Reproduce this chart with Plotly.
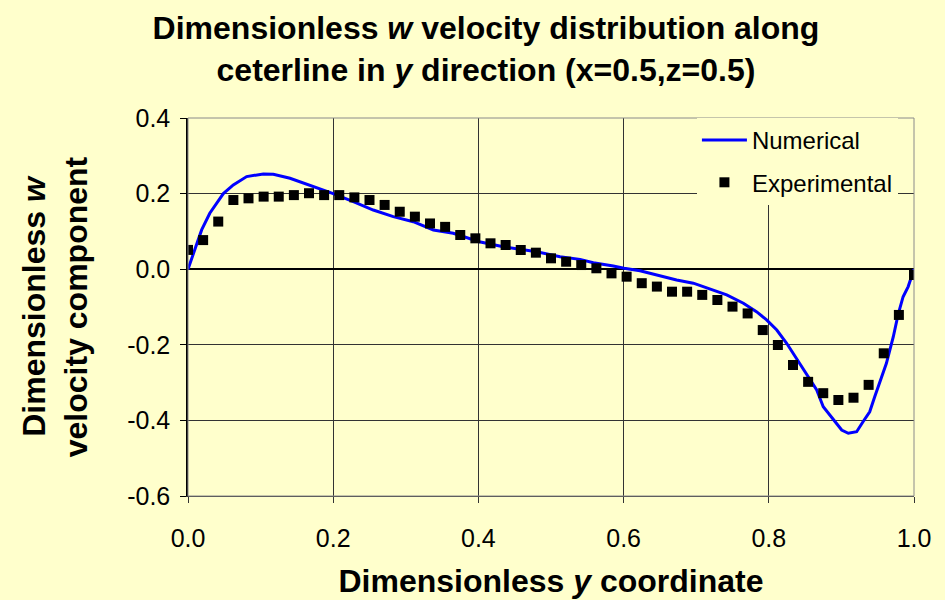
import plotly.graph_objects as go

# ---- Data ----
exp_x = [i / 48 for i in range(49)]
exp_w = [0.051, 0.077, 0.126, 0.183, 0.1875, 0.192, 0.192, 0.196, 0.201, 0.196,
         0.196, 0.190, 0.183, 0.170, 0.152, 0.139, 0.121, 0.112, 0.0905, 0.0817,
         0.0685, 0.064, 0.0508, 0.0437, 0.0288, 0.0198, 0.011, 0.0024, -0.011, -0.0198,
         -0.037, -0.046, -0.0595, -0.0595, -0.068, -0.0815, -0.099, -0.117, -0.161, -0.2005,
         -0.2534, -0.298, -0.328, -0.346, -0.340, -0.306, -0.2225, -0.121, -0.0153]

num_x = [0.0, 0.0096, 0.0188, 0.030, 0.0487, 0.0624, 0.0808, 0.1037, 0.1175, 0.1405,
         0.1635, 0.1818, 0.200, 0.2277, 0.2552, 0.2828, 0.3103, 0.338, 0.3654, 0.4013,
         0.4343, 0.4803, 0.5124, 0.54, 0.5583, 0.5858, 0.6006, 0.6226, 0.641, 0.664,
         0.673, 0.696, 0.719, 0.742, 0.765, 0.783, 0.797, 0.811, 0.8246, 0.838,
         0.852, 0.866, 0.875, 0.889, 0.9004, 0.9095, 0.921, 0.930, 0.939, 0.946,
         0.953, 0.962, 0.9715, 0.978, 0.985, 0.992, 1.0]
num_w = [0.0, 0.051, 0.104, 0.148, 0.200, 0.223, 0.245, 0.252, 0.251, 0.2405,
         0.225, 0.214, 0.200, 0.1786, 0.1566, 0.139, 0.1257, 0.1037, 0.095, 0.0728,
         0.0595, 0.0463, 0.033, 0.026, 0.017, 0.0085, 0.0024, -0.004, -0.0127, -0.024,
         -0.0286, -0.037, -0.053, -0.068, -0.090, -0.1124, -0.134, -0.161, -0.196, -0.236,
         -0.2754, -0.3196, -0.3638, -0.399, -0.4254, -0.434, -0.430, -0.403, -0.377, -0.337,
         -0.2976, -0.249, -0.1786, -0.121, -0.0728, -0.046, 0.0]

x_ticks = [0.0, 0.2, 0.4, 0.6, 0.8, 1.0]
x_tick_text = ["0.0", "0.2", "0.4", "0.6", "0.8", "1.0"]
y_ticks = [-0.6, -0.4, -0.2, 0.0, 0.2, 0.4]
y_tick_text = ["-0.6", "-0.4", "-0.2", "0.0", "0.2", "0.4"]

BG = "#FFFFCC"
FONT = "Liberation Sans, Arial, sans-serif"

fig = go.Figure()
fig.add_trace(go.Scatter(
    x=num_x, y=num_w, mode="lines", name="Numerical",
    line=dict(color="#0000FF", width=3), legendgroup="a"))
fig.add_trace(go.Scatter(
    x=exp_x, y=exp_w, mode="markers", name="Experimental",
    marker=dict(symbol="square", size=10, color="black"), legendgroup="b"))

fig.update_layout(
    width=945, height=600,
    paper_bgcolor=BG, plot_bgcolor=BG,
    margin=dict(l=188, r=31, t=118, b=104),
    font=dict(family=FONT, size=24, color="black"),
    title=dict(
        text="<b>Dimensionless <i>w</i> velocity distribution along<br>ceterline in <i>y</i> direction (x=0.5,z=0.5)</b>",
        x=486 / 945, xanchor="center", xref="container",
        y=1 - 39 / 600, yanchor="middle", yref="container",
        font=dict(family=FONT, size=32, color="black")),
    legend=dict(
        x=0.701, xanchor="left", y=1.0, yanchor="top",
        bgcolor=BG, borderwidth=0,
        font=dict(family=FONT, size=24, color="black"),
        traceorder="grouped", tracegroupgap=8, itemwidth=45,
        entrywidth=170, entrywidthmode="pixels"),
    showlegend=True,
)

fig.update_xaxes(
    range=[0, 1], tickvals=x_ticks, ticktext=x_tick_text, automargin=False,
    showgrid=True, gridcolor="#333333", gridwidth=1,
    zeroline=False, showline=True, linecolor="#333333", linewidth=1,
    ticks="outside", ticklen=6, tickcolor="#333333", ticklabelstandoff=14,
    title=dict(text="<b>Dimensionless <i>y</i> coordinate</b>",
               font=dict(family=FONT, size=32, color="black"), standoff=18),
    tickfont=dict(family=FONT, size=25, color="black"),
)
fig.update_yaxes(
    range=[-0.6, 0.4], tickvals=y_ticks, ticktext=y_tick_text, automargin=False,
    showgrid=True, gridcolor="#333333", gridwidth=1,
    zeroline=True, zerolinecolor="black", zerolinewidth=1.5,
    showline=True, linecolor="black", linewidth=1.5,
    ticks="outside", ticklen=6, tickcolor="black", ticklabelstandoff=5,
    title=dict(text="<b>Dimensionless <i>w</i><br>velocity component</b>",
               font=dict(family=FONT, size=32, color="black"), standoff=30),
    tickfont=dict(family=FONT, size=25, color="black"),
)

fig.add_shape(type="rect", xref="paper", yref="paper", x0=0, x1=1, y0=0, y1=1,
              line=dict(color="#8a8a8a", width=1), layer="above")

fig.write_html("out.html")
